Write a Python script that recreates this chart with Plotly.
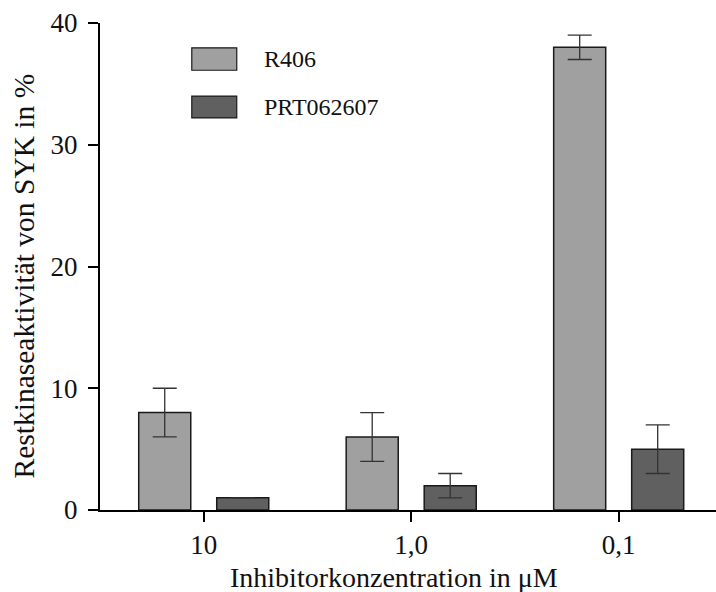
import plotly.graph_objects as go

categories = ["10", "1,0", "0,1"]
r406_values = [8, 6, 38]
r406_errors = [2, 2, 1]
prt_values = [1, 2, 5]
prt_errors = [0, 1, 2]
series_names = ["R406", "PRT062607"]
series_colors = ["#a0a0a0", "#606060"]
y_ticks = [0, 10, 20, 30, 40]
x_title = "Inhibitorkonzentration in μM"
y_title = "Restkinaseaktivität von SYK in %"

FONT = "Liberation Serif, Times New Roman, serif"

fig = go.Figure()
for name, vals, errs, col in zip(series_names, [r406_values, prt_values],
                                 [r406_errors, prt_errors], series_colors):
    fig.add_trace(go.Bar(
        x=categories, y=vals, name=name,
        marker=dict(color=col, line=dict(color="#1a1a1a", width=1.5)),
        error_y=dict(type="data", array=errs, visible=True,
                     color="#333333", thickness=1.3, width=12),
        showlegend=False,
    ))

# manual legend (large swatches as in the reference)
legend_y = [(0.903, 0.949), (0.805, 0.850)]
for (y0, y1), name, col in zip(legend_y, series_names, series_colors):
    fig.add_shape(type="rect", xref="paper", yref="paper",
                  x0=0.149, x1=0.222, y0=y0, y1=y1,
                  fillcolor=col, line=dict(color="#1a1a1a", width=1.2))
    fig.add_annotation(xref="paper", yref="paper", x=0.263, y=(y0 + y1) / 2,
                       text=name, showarrow=False, xanchor="left", yanchor="middle",
                       font=dict(family=FONT, size=24, color="#111"))

# axis titles
fig.add_annotation(xref="paper", yref="paper", x=0.478, y=-0.1386,
                   text=x_title, showarrow=False, xanchor="center", yanchor="middle",
                   font=dict(family=FONT, size=28, color="#111"))
fig.add_annotation(xref="paper", yref="paper", x=-0.1234, y=0.4815,
                   text=y_title, showarrow=False, textangle=-90,
                   xanchor="center", yanchor="middle",
                   font=dict(family=FONT, size=29.5, color="#111"))

fig.update_layout(
    width=716, height=592,
    margin=dict(l=100, r=0, t=23, b=82),
    plot_bgcolor="white", paper_bgcolor="white",
    barmode="group", bargap=0.248, bargroupgap=0.333,
    font=dict(family=FONT, size=27, color="#111"),
    xaxis=dict(
        range=[-0.5, 2.469], showline=True, linecolor="black", linewidth=2,
        ticks="outside", ticklen=10, tickwidth=2, tickcolor="black",
        showgrid=False, zeroline=False, tickfont=dict(size=27),
    ),
    yaxis=dict(
        range=[0, 40], tickvals=y_ticks, showline=True, linecolor="black", linewidth=2,
        ticks="outside", ticklen=10, tickwidth=2, tickcolor="black",
        showgrid=False, zeroline=False, tickfont=dict(size=27),
        ticklabelstandoff=5,
    ),
)

fig.write_html("out.html")
